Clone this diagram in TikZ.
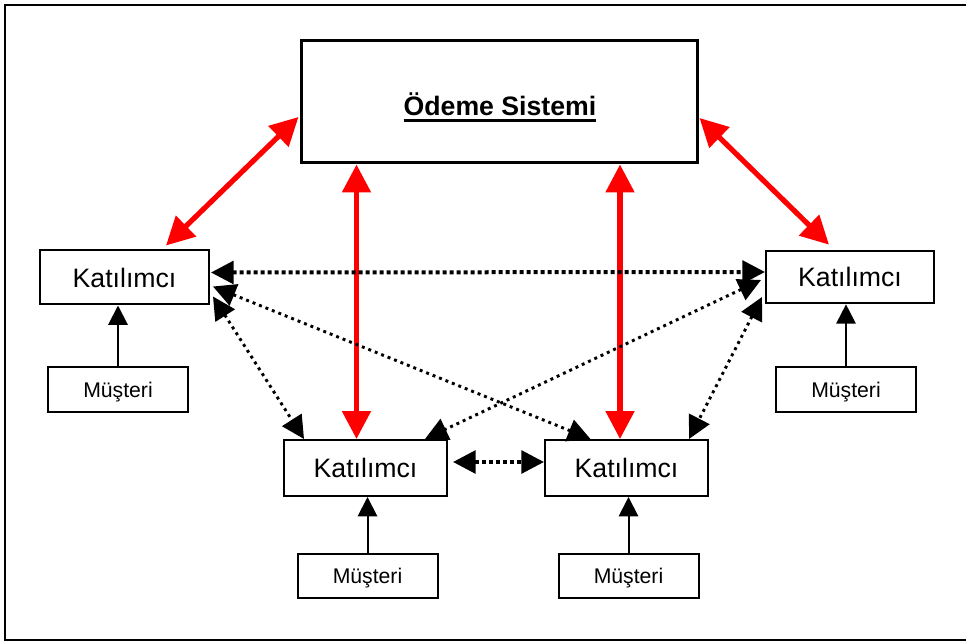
\documentclass[tikz,border=0pt]{standalone}
\usepackage{fontspec}
\setmainfont{Liberation Sans}
\usetikzlibrary{arrows.meta}
% bold text with a heavy underline
\newcommand\ulbold[1]{\setbox0=\hbox{#1}\rlap{\rule[-4.3pt]{\wd0}{1.8pt}}\box0}
\begin{document}
\begin{tikzpicture}[x=0.75pt,y=-0.75pt,
  kbox/.style={draw, line width=1.5pt, inner sep=0pt, text depth=0pt,
    font=\fontsize{20pt}{24pt}\selectfont},
  mbox/.style={draw, line width=1.5pt, inner sep=0pt, text depth=0pt,
    minimum width=105pt, minimum height=33.75pt,
    font=\fontsize{15.9pt}{18pt}\selectfont},
  paybox/.style={draw, line width=2.25pt, inner sep=0pt},
  redarr/.style={draw=red, line width=3.9pt,
    {Triangle[length=21pt,width=21pt]}-{Triangle[length=21pt,width=21pt]}},
  dotarr/.style={draw=black, line width=2.2pt, dash pattern=on 2.2pt off 3pt,
    {Triangle[length=17pt,width=17pt]}-{Triangle[length=17pt,width=17pt]}},
  thickdotarr/.style={draw=black, line width=3pt, dash pattern=on 3pt off 2.25pt,
    {Triangle[length=17pt,width=17pt]}-{Triangle[length=17pt,width=17pt]}},
  feed/.style={draw=black, line width=1.5pt, -{Triangle[length=14.5pt,width=14.5pt]}}
]
\useasboundingbox (0,0) rectangle (966,641);

% outer frame
\draw[line width=2pt] (966,5) -- (5,5) -- (5,640) -- (966,640);

% payment system
\node[paybox, minimum width=297pt, minimum height=91.5pt] (pay) at (499,102) {};
\node[font=\bfseries\fontsize{20pt}{24pt}\selectfont, anchor=base, inner sep=0pt]
  (title) at (500,116) {\ulbold{Ödeme Sistemi}};

% participants
\node[kbox, minimum width=126.75pt, minimum height=40.5pt] (k1) at (124.5,277.5) {Katılımcı};
\node[kbox, minimum width=126pt, minimum height=39.5pt] (k2) at (850,277) {Katılımcı};
\node[kbox, minimum width=122.25pt, minimum height=42pt] (k3) at (365.5,468) {Katılımcı};
\node[kbox, minimum width=122.25pt, minimum height=42pt] (k4) at (626.5,468) {Katılımcı};

% customers
\node[mbox] (m1) at (118,389.5) {Müşteri};
\node[mbox] (m2) at (846,389.5) {Müşteri};
\node[mbox, minimum height=33pt] (m3) at (367.5,576) {Müşteri};
\node[mbox, minimum height=33pt] (m4) at (628.5,576) {Müşteri};

% customer -> participant
\foreach \m/\k in {m1/k1, m2/k2, m3/k3, m4/k4}
  \draw[feed] (\m.north) -- (\m.north |- \k.south);

% payment system <-> participants
\draw[redarr] ([shift={(-1,15)}]pay.west) -- ([shift={(41.5,-4)}]k1.north);
\draw[redarr] ([shift={(1,16)}]pay.east) -- ([shift={(-21,-5)}]k2.north);
\coordinate (r2) at ([shift={(-9,0)}]k3.north);
\coordinate (r3) at ([shift={(-6.5,0)}]k4.north);
\draw[redarr] (r2) -- (r2 |- pay.south);
\draw[redarr] (r3) -- (r3 |- pay.south);

% participant <-> participant
\draw[thickdotarr] ([shift={(1,-5)}]k1.east) -- ([shift={(0,-5)}]k2.west);
\draw[thickdotarr] ([shift={(5,-6)}]k3.east) -- ([shift={(0,-6)}]k4.west);
\draw[dotarr] ([shift={(3,9)}]k1.east) -- ([shift={(-36,0)}]k4.north);
\draw[dotarr] ([shift={(3,19)}]k1.east) -- ([shift={(21,0)}]k3.north west);
\draw[dotarr] ([shift={(-4,3)}]k2.west) -- ([shift={(-23,0)}]k3.north east);
\draw[dotarr] ([shift={(-3,20)}]k2.west) -- ([shift={(-20,0)}]k4.north east);
\end{tikzpicture}
\end{document}
